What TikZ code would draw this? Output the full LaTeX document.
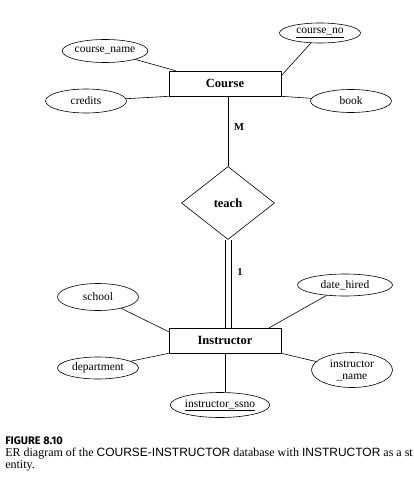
\documentclass[tikz,border=0pt]{standalone}
\usepackage{fontspec}
\setmainfont{Liberation Serif}
\newfontfamily\capsans{Liberation Sans}
\newfontfamily\figsans{Fira Sans}
\usetikzlibrary{shapes.geometric}
\tikzset{>=latex}
\tikzset{
    attr/.style={draw, ellipse, inner sep=0pt, minimum width=81pt, minimum height=23pt, font=\fontsize{11.5}{12}\selectfont},
    entity/.style={draw, rectangle, minimum width=112pt, minimum height=25pt, inner sep=0pt, font=\fontsize{12.5}{13}\selectfont\bfseries},
    rel/.style={draw, diamond, minimum width=93pt, minimum height=73pt, inner sep=0pt, font=\fontsize{12.5}{13}\selectfont\bfseries},
    card/.style={font=\fontsize{10.5}{11}\selectfont\bfseries}
}

\begin{document}
\begin{tikzpicture}[x=1pt, y=-1pt, line width=0.6pt]
    \useasboundingbox (0, 0) rectangle (413, 482);
    % entities and relationship
    \node [entity] (course) at (225, 83.5) {Course};
    \node [rel] (teach) at (228, 203) {teach};
    \node [entity] (instr) at (225, 340.5) {Instructor};
    % attributes of Course
    \node [attr] (cname) at (105, 51) {course\_name};
    \node [attr, minimum height=24pt] (credits) at (86, 101) {credits};
    \node [attr, minimum height=20pt] (cno) at (320, 33) {\underline{course\_no}};
    \node [attr] (book) at (351, 101) {book};
    % attributes of Instructor
    \node [attr, minimum height=27pt] (school) at (98, 297) {school};
    \node [attr, minimum height=22pt] (dept) at (98, 368) {department};
    \node [attr, minimum width=85pt, minimum height=25pt] (ssno) at (220, 405) {\underline{instructor\_ssno}};
    \node [attr, minimum width=95pt, minimum height=22pt] (dhired) at (345, 285) {date\_hired};
    \node [attr, minimum height=35pt, align=center] (iname) at (352, 370) {instructor\\\_name};
    % connectors
    \draw (cname) -- ([xshift=7]course.north west);
    \draw (credits) -- (course.south west);
    \draw (cno) -- ([yshift=-5]course.north east);
    \draw (book) -- (course.south east);
    \draw (teach.north |- course.south) -- (teach.north);
    \draw ([xshift=-3]teach.south) -- ([xshift=-3]teach.south |- instr.north);
    \draw ([xshift=3]teach.south) -- ([xshift=3]teach.south |- instr.north);
    \draw (school) -- ([yshift=-4]instr.north west);
    \draw (dept) -- (instr.south west);
    \draw (dhired) -- ([xshift=-12]instr.north east);
    \draw (iname) -- (instr.south east);
    \draw (instr.south) -- (instr.south |- ssno.north);
    % cardinalities
    \node [card] (m) at (239, 127) {M};
    \node [card] (one) at (240, 272) {1};
    % caption
    \node [anchor=base west, inner sep=0pt, font=\fontsize{11}{12}\selectfont\figsans\bfseries] (fig) at (5, 444) {FIGURE 8.10};
    \node [anchor=base west, inner sep=0pt, font=\fontsize{12}{13}\selectfont] (capa) at (5, 456) {ER diagram of the {\capsans COURSE-INSTRUCTOR} database with {\capsans INSTRUCTOR} as a st};
    \node [anchor=base west, inner sep=0pt, font=\fontsize{12}{13}\selectfont] (capb) at (5, 468) {entity.};
\end{tikzpicture}
\end{document}
